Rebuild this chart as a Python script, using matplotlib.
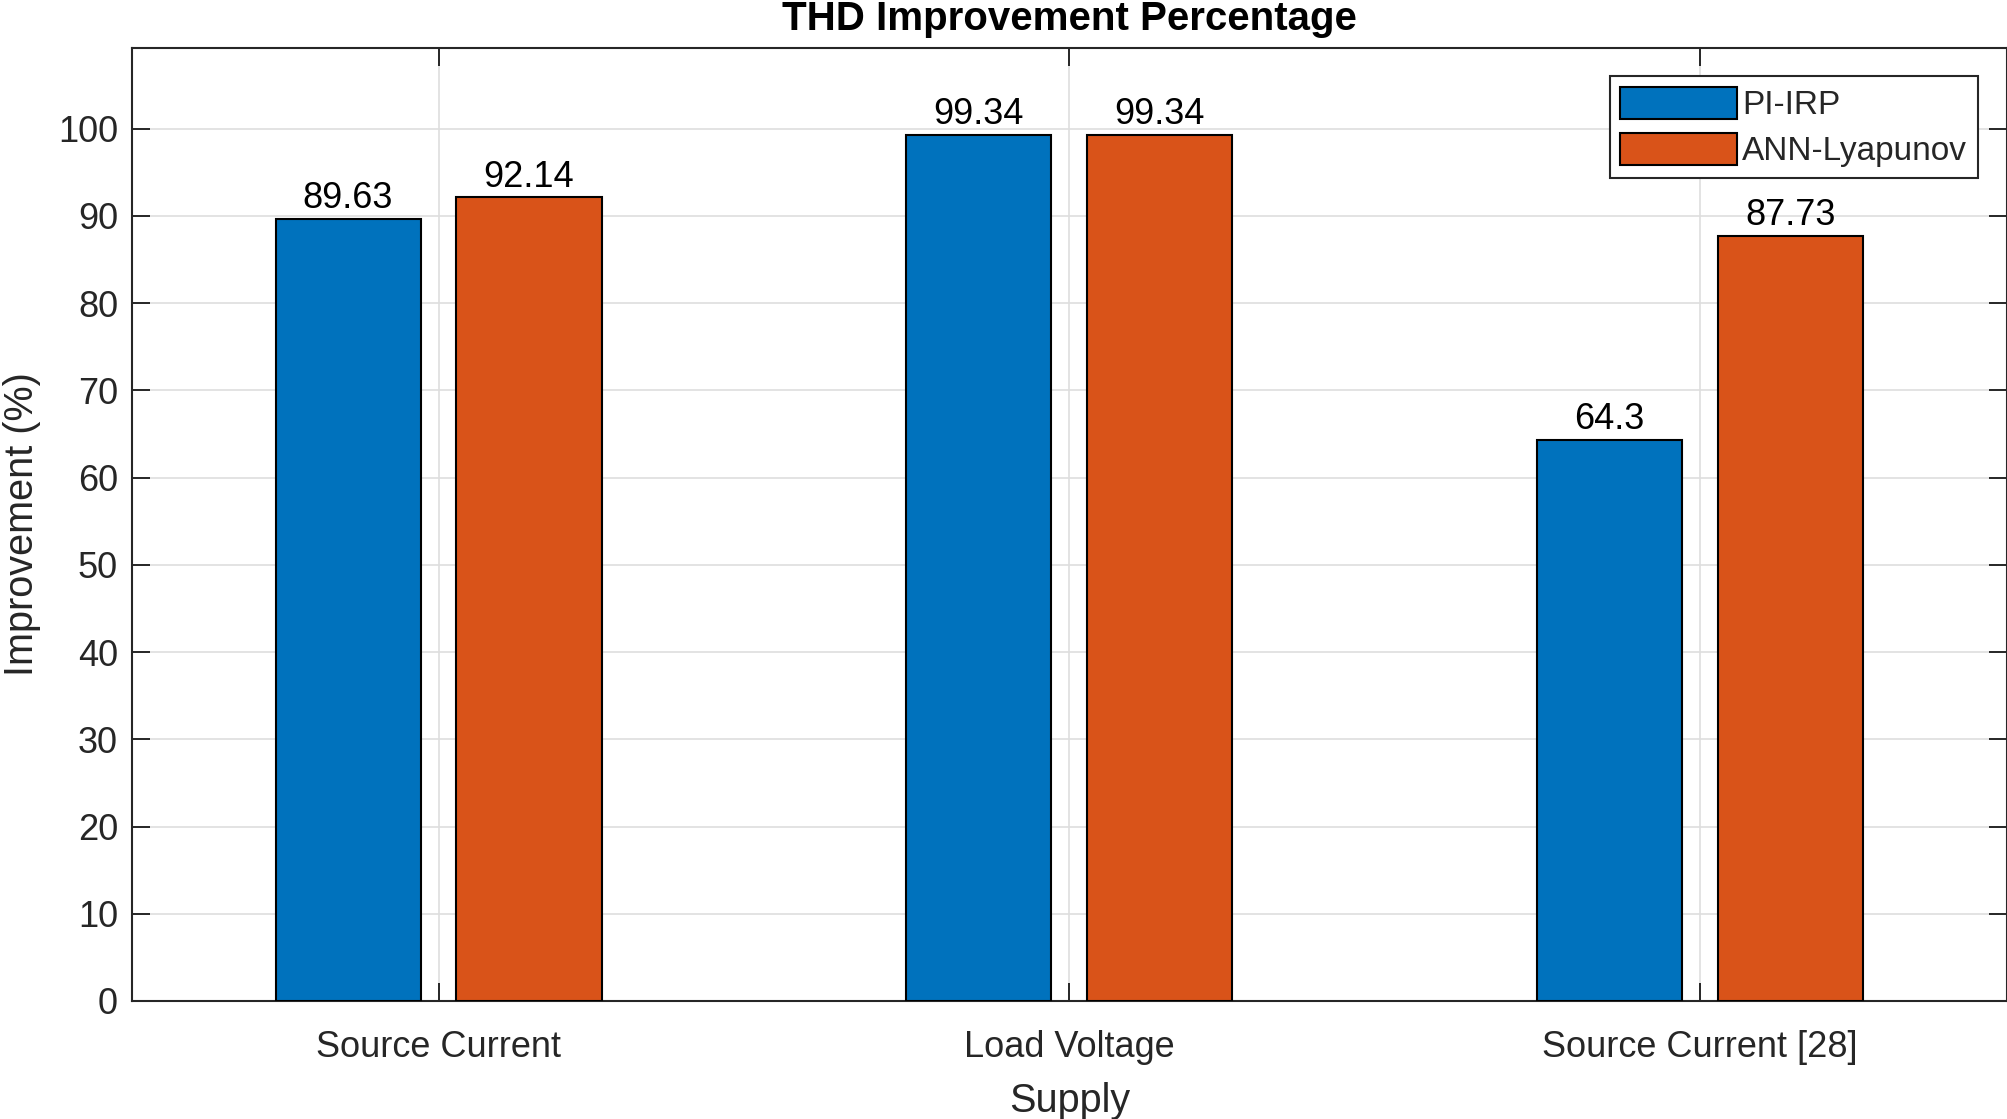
import matplotlib
matplotlib.use('Agg')
import matplotlib.pyplot as plt
import numpy as np

plt.rcParams['font.family'] = ['Liberation Sans', 'DejaVu Sans']

categories = ['Source Current', 'Load Voltage', 'Source Current [28]']
pi_irp = [89.63, 99.34, 64.3]
ann_lyapunov = [92.14, 99.34, 87.73]
series_names = ['PI-IRP', 'ANN-Lyapunov']
y_ticks = [0, 10, 20, 30, 40, 50, 60, 70, 80, 90, 100]

BLUE = '#0072BD'
ORANGE = '#D95319'
AXC = '#262626'

fig = plt.figure(figsize=(20.08, 11.19), dpi=100)
ax = fig.add_axes([0.0657, 0.1055, 0.9337, 0.8517])

x = np.arange(1, len(categories) + 1)
offset = 0.1434
width = 0.23

b1 = ax.bar(x - offset, pi_irp, width, color=BLUE, edgecolor='black',
            linewidth=1.5, label=series_names[0], zorder=3)
b2 = ax.bar(x + offset, ann_lyapunov, width, color=ORANGE, edgecolor='black',
            linewidth=1.5, label=series_names[1], zorder=3)

# value labels on top of each bar
for bars, vals in ((b1, pi_irp), (b2, ann_lyapunov)):
    ax.bar_label(bars, labels=[f'{v:g}' for v in vals], padding=2,
                 fontsize=26, color='black')

ax.set_xlim(0.514, 3.486)
ax.set_ylim(0, max(pi_irp + ann_lyapunov) * 1.1)
ax.set_xticks(x)
ax.set_xticklabels(categories)
ax.set_yticks(y_ticks)

ax.grid(True, color='#dedede', linewidth=1.2, zorder=0)
ax.set_axisbelow(True)

ax.tick_params(axis='both', direction='in', length=13, width=1.4,
               color=AXC, labelcolor=AXC, labelsize=26,
               top=True, right=True)
ax.tick_params(axis='y', pad=10)
ax.tick_params(axis='x', pad=21)
for sp in ax.spines.values():
    sp.set_color(AXC)
    sp.set_linewidth(1.5)

ax.set_title('THD Improvement Percentage', fontsize=29, fontweight='bold',
             color='black', pad=13)
ax.set_xlabel('Supply', fontsize=28.5, color=AXC, labelpad=12)
ax.set_ylabel('Improvement (%)', fontsize=28.5, color=AXC, labelpad=12)

leg = ax.legend(loc='upper right', bbox_to_anchor=(0.9845, 0.97),
                fontsize=24, frameon=True, fancybox=False,
                edgecolor=AXC, framealpha=1, handlelength=3.5,
                handleheight=1.1, handletextpad=0.15, labelspacing=0.35,
                borderpad=0.32, borderaxespad=0)
leg.get_frame().set_linewidth(1.5)
for t in leg.get_texts():
    t.set_color(AXC)

fig.savefig('out.png', dpi=100)
